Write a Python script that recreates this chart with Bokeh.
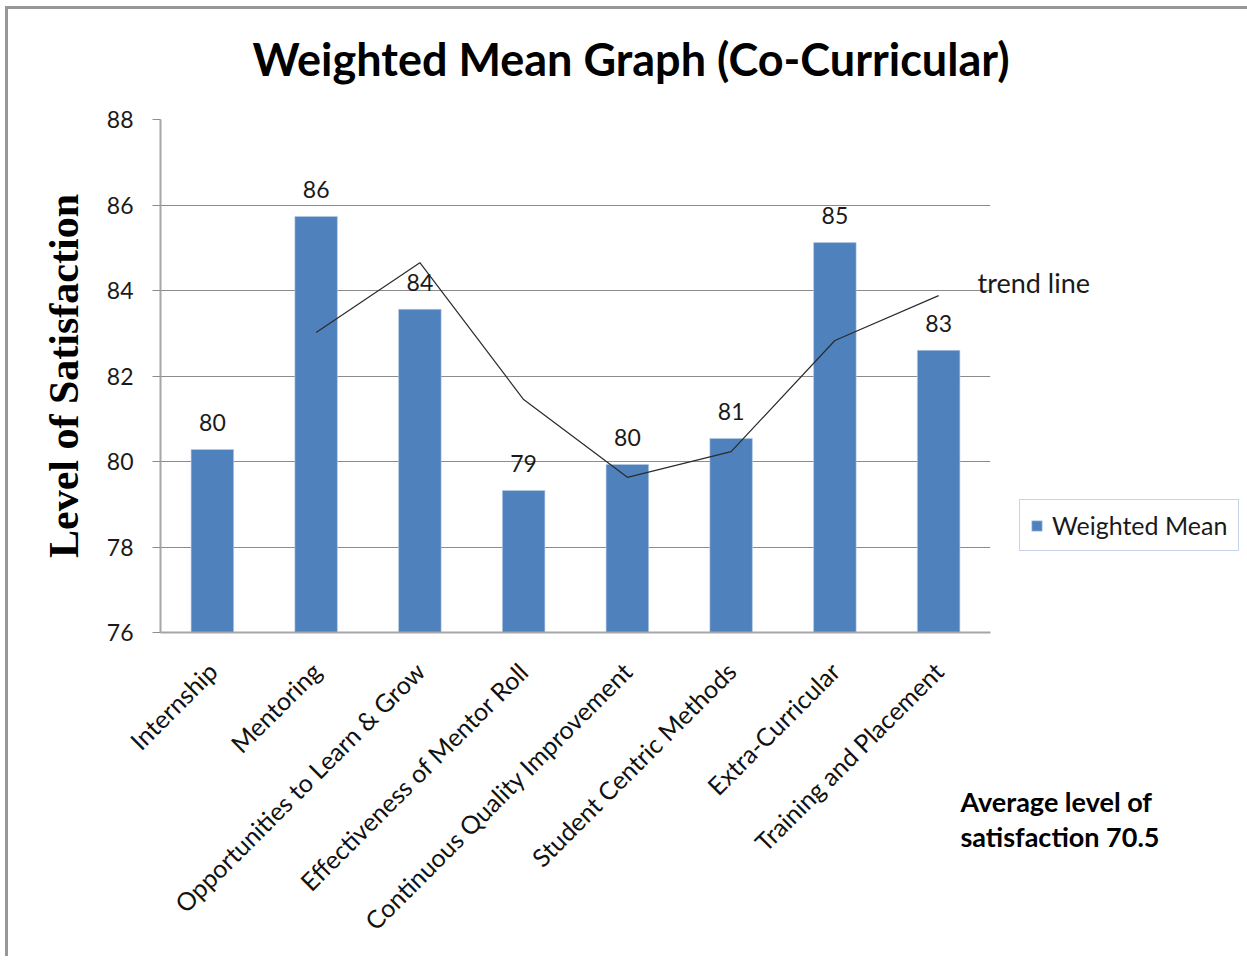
import math
from bokeh.plotting import figure
from bokeh.models import Range1d, FactorRange, Legend, LegendItem, ColumnDataSource, FixedTicker
from bokeh.core.properties import value
from bokeh.embed import file_html
from bokeh.resources import INLINE

categories = [
    "Internship",
    "Mentoring",
    "Opportunities to Learn & Grow",
    "Effectiveness of Mentor Roll",
    "Continuous Quality Improvement",
    "Student Centric Methods",
    "Extra-Curricular",
    "Training and Placement",
]
weighted_mean = [80.28, 85.73, 83.56, 79.32, 79.93, 80.54, 85.12, 82.60]
data_labels = ["80", "86", "84", "79", "80", "81", "85", "83"]
trend_categories = categories[1:]
trend_values = [83.02, 84.65, 81.45, 79.63, 80.23, 82.83, 83.88]
y_ticks = [76, 78, 80, 82, 84, 86, 88]

FONT = "Lato"
B = 3
ML, MT = 5, 6               # element margins on the page
CX0, CY0 = ML + B, MT + B   # canvas origin on the page

p = figure(
    frame_width=830, frame_height=513,
    x_range=FactorRange(*categories, range_padding=0),
    y_range=Range1d(76, 88),
    output_backend="svg", toolbar_location=None,
    min_border_left=160 - CX0,
    min_border_right=252,
    min_border_top=119 - CY0,
    min_border_bottom=324,
)
p.styles = {
    "border-left": f"{B}px solid #979797",
    "border-top": f"{B}px solid #979797",
    "margin-left": f"{ML}px",
    "margin-top": f"{MT}px",
}
p.outline_line_color = None
p.background_fill_color = "white"
p.border_fill_color = "white"

src = ColumnDataSource(dict(cat=categories, val=weighted_mean, lab=data_labels))
bars = p.vbar(x="cat", top="val", bottom=76, width=0.41, source=src,
              fill_color="#4f81bd", line_color="#b9cde5", line_width=0.6)

p.text(x="cat", y="val", text="lab", source=src, text_align="center",
       text_baseline="alphabetic", y_offset=-27, text_font=value(FONT),
       text_font_size="23px", text_color="#1a1a1a")

p.line(x=trend_categories, y=trend_values, line_color="#2b2b2b", line_width=1.2)

# axes
p.yaxis.ticker = FixedTicker(ticks=y_ticks)
p.yaxis.major_tick_out = 8
p.yaxis.major_tick_in = 0
p.yaxis.minor_tick_line_color = None
p.yaxis.major_tick_line_color = "#8c8c8c"
p.yaxis.axis_line_color = "#a6a6a6"
p.yaxis.axis_line_width = 2
p.yaxis.major_label_text_font = FONT
p.yaxis.major_label_text_font_size = "23px"
p.yaxis.major_label_text_color = "#1a1a1a"
p.yaxis.major_label_standoff = 19
p.yaxis.axis_label = "Level of Satisfaction"
p.yaxis.axis_label_text_font = "Liberation Serif"
p.yaxis.axis_label_text_font_style = "bold"
p.yaxis.axis_label_text_font_size = "42px"
p.yaxis.axis_label_text_color = "black"
p.yaxis.axis_label_standoff = 17

p.xaxis.major_label_orientation = math.pi / 4
p.xaxis.major_tick_line_color = None
p.xaxis.axis_line_color = "#a6a6a6"
p.xaxis.axis_line_width = 2
p.xaxis.major_label_text_font = FONT
p.xaxis.major_label_text_font_size = "25px"
p.xaxis.major_label_text_color = "#111111"
p.xaxis.major_label_standoff = 28

p.xgrid.grid_line_color = None
p.ygrid.grid_line_color = "#8c8c8c"
p.ygrid.grid_line_width = 1

# free texts (overlay level so they are not clipped to the plot frame)
p.text(x=[4.535], y=[89.42], text=["Weighted Mean Graph (Co-Curricular)"],
       text_align="center", text_baseline="middle", text_font=value(FONT),
       text_font_style="bold", text_font_size="45px", text_color="black", level="overlay")
p.text(x=[7.875], y=[84.19], text=["trend line"], text_align="left",
       text_baseline="middle", text_font=value(FONT), text_font_size="27px",
       text_color="#1a1a1a", level="overlay")
p.text(x=[7.71, 7.71], y=[72.05, 71.23], text=["Average level of", "satisfaction 70.5"],
       text_align="left", text_baseline="middle", text_font=value(FONT),
       text_font_style="bold", text_font_size="27px", text_color="black", level="overlay")

legend = Legend(items=[LegendItem(label="Weighted Mean", renderers=[bars])],
                location=(1019 - 990, 632 - 551), orientation="vertical",
                border_line_color="#8aa9d6", border_line_width=1,
                background_fill_color="white", padding=10, margin=0,
                glyph_width=13, glyph_height=13, label_standoff=9, label_width=176,
                label_text_font=FONT, label_text_font_size="25px",
                label_text_color="#1a1a1a")
p.add_layout(legend, "right")

open("out.html", "w").write(file_html(p, INLINE))
